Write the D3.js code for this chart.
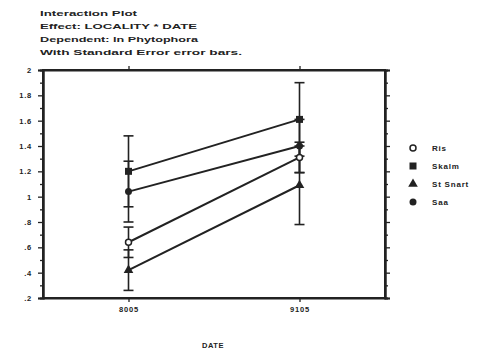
<!DOCTYPE html>
<html>
<head>
<meta charset="utf-8">
<script src="https://cdn.jsdelivr.net/npm/d3@7"></script>
<style>
  body { margin: 0; background: #fff; }
  text { font-family: "Liberation Sans", Arial, sans-serif; font-weight: bold; fill: #222; }
</style>
</head>
<body>
<div id="chart"></div>
<script>
// datos
const dates = ['8005', '9105'];
const localities = ['Ris', 'Skalm', 'St Snart', 'Saa'];
const symbols = ['openCircle', 'square', 'triangle', 'circle'];
const means = {
  'Ris':      [0.64, 1.31],
  'Skalm':    [1.20, 1.61],
  'St Snart': [0.42, 1.09],
  'Saa':      [1.04, 1.40]
};
const stdErr = {
  'Ris':      [0.12, 0.12],
  'Skalm':    [0.28, 0.29],
  'St Snart': [0.16, 0.31],
  'Saa':      [0.24, 0.21]
};
const yTicks = [0.2, 0.4, 0.6, 0.8, 1, 1.2, 1.4, 1.6, 1.8, 2];
const titleLines = [
  'Interaction  Plot',
  'Effect:  LOCALITY  *  DATE',
  'Dependent:  ln  Phytophora',
  'With  Standard  Error  error  bars.'
];

const width = 481;
const height = 357;
const plotLeft = 43, plotRight = 385, plotTop = 70, plotBottom = 298;
const ink = '#222';

const svg = d3.select('#chart').append('svg')
  .attr('width', width)
  .attr('height', height);

const x = d3.scalePoint().domain(dates).range([plotLeft, plotRight]).padding(0.5);
const y = d3.scaleLinear().domain([0.2, 2]).range([plotBottom, plotTop]);
const minor = d3.range(0.3, 2, 0.2);

// titulo
const titleWidths = [97, 157, 158, 202];
titleLines.forEach((t, i) => {
  svg.append('text')
    .attr('x', 40)
    .attr('y', 16 + i * 13)
    .attr('font-size', 7.5)
    .attr('textLength', titleWidths[i])
    .attr('lengthAdjust', 'spacingAndGlyphs')
    .text(t);
});

// ejes
const axisLeft = svg.append('g')
  .attr('transform', `translate(${plotLeft},0)`)
  .call(d3.axisLeft(y).tickValues(yTicks).tickSize(5).tickPadding(6)
    .tickFormat(d => d3.format('.1f')(d).replace(/^0/, '').replace(/\.0$/, '')));
axisLeft.append('g').call(d3.axisLeft(y).tickValues(minor).tickSize(3).tickFormat(''));

const axisRight = svg.append('g')
  .attr('transform', `translate(${plotRight},0)`)
  .call(d3.axisRight(y).tickValues(yTicks).tickSize(5).tickFormat(''));
axisRight.append('g').call(d3.axisRight(y).tickValues(minor).tickSize(3).tickFormat(''));

svg.append('g')
  .attr('transform', `translate(0,${plotBottom})`)
  .call(d3.axisBottom(x).tickSize(4).tickPadding(5).tickSizeOuter(0));
svg.append('g')
  .attr('transform', `translate(0,${plotTop})`)
  .call(d3.axisTop(x).tickSize(4).tickSizeOuter(0).tickFormat(''));

svg.selectAll('.domain').attr('stroke', ink).attr('stroke-width', 2);
svg.selectAll('.tick line').attr('stroke', ink).attr('stroke-width', 1.3);
svg.selectAll('.tick text').attr('font-size', 7.5)
  .style('fill', ink).style('font-weight', 'bold').style('letter-spacing', '0.8px');

// marco completo
svg.append('rect')
  .attr('x', plotLeft).attr('y', plotTop)
  .attr('width', plotRight - plotLeft).attr('height', plotBottom - plotTop)
  .attr('fill', 'none').attr('stroke', ink).attr('stroke-width', 2);

svg.append('text')
  .attr('x', 213).attr('y', 348)
  .attr('text-anchor', 'middle')
  .attr('font-size', 7.5)
  .style('letter-spacing', '0.5px')
  .text('DATE');

// barras de error
const capW = 5;
localities.forEach(loc => {
  dates.forEach((d, i) => {
    const m = means[loc][i], e = stdErr[loc][i];
    const g = svg.append('g').attr('stroke', ink).attr('stroke-width', 1.6);
    g.append('line').attr('x1', x(d)).attr('x2', x(d)).attr('y1', y(m + e)).attr('y2', y(m - e));
    [m + e, m - e].forEach(v => {
      g.append('line').attr('x1', x(d) - capW).attr('x2', x(d) + capW)
        .attr('y1', y(v)).attr('y2', y(v));
    });
  });
});

// lineas
const line = d3.line().x((v, i) => x(dates[i])).y(v => y(v));
localities.forEach(loc => {
  svg.append('path')
    .attr('d', line(means[loc]))
    .attr('fill', 'none')
    .attr('stroke', ink)
    .attr('stroke-width', 2);
});

function drawSymbol(g, type, cx, cy) {
  if (type === 'square') {
    g.append('rect').attr('x', cx - 3.5).attr('y', cy - 3.5).attr('width', 7).attr('height', 7)
      .attr('fill', ink);
  } else if (type === 'triangle') {
    g.append('path').attr('d', d3.symbol(d3.symbolTriangle, 40)())
      .attr('transform', `translate(${cx},${cy})`).attr('fill', ink);
  } else if (type === 'openCircle') {
    g.append('circle').attr('cx', cx).attr('cy', cy).attr('r', 3)
      .attr('fill', '#fff').attr('stroke', ink).attr('stroke-width', 1.5);
  } else {
    g.append('circle').attr('cx', cx).attr('cy', cy).attr('r', 3.5).attr('fill', ink);
  }
}

// marcadores
const marks = svg.append('g');
localities.forEach((loc, k) => {
  means[loc].forEach((v, i) => drawSymbol(marks, symbols[k], x(dates[i]), y(v)));
});

// leyenda
const legend = svg.append('g').attr('class', 'legend');
localities.forEach((loc, k) => {
  const ly = 148 + k * 18;
  drawSymbol(legend, symbols[k], 413, ly);
  legend.append('text')
    .attr('x', 432).attr('y', ly + 3)
    .attr('font-size', 8)
    .style('letter-spacing', '0.8px')
    .text(loc);
});
</script>
</body>
</html>
